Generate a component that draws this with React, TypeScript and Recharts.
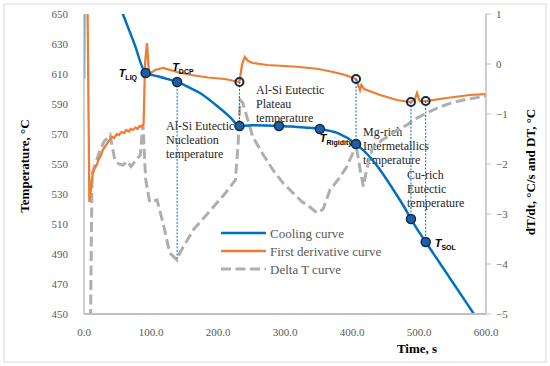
import { ComposedChart, Legend, Line, ReferenceDot, ReferenceLine, XAxis, YAxis } from "recharts";

// cooling curve, temperature in °C (left axis)
const coolTime = [0, 1, 20, 40, 58, 75, 92, 110, 125, 139, 156, 173, 195, 218, 232, 250, 270, 291, 310, 330, 352, 378, 406, 425, 442, 460, 479, 488, 510, 530, 550, 582, 600];
const coolTemp = [607, 720, 694, 671, 650, 630.4, 610.7, 608.5, 606.6, 604.7, 601.2, 597.3, 590, 581.3, 575.3, 575.8, 575.7, 575.3, 575, 574.3, 573.3, 570.7, 563.3, 555.5, 546, 534, 520.5, 513.3, 498, 484.7, 471.3, 450, 438];

// first derivative, °C/s (right axis)
const derivTime = [4, 8, 13, 16, 19, 22, 25, 28, 31, 34, 38, 42, 45, 49, 52, 56, 60, 63, 67, 70, 73, 77, 80, 83, 86, 89, 91, 94, 97, 100, 106, 118, 139, 160, 185, 210, 232, 236, 240, 245, 252, 273, 300, 322, 350, 372, 390, 406, 412, 414, 418, 430, 442, 467, 488, 494, 497, 501, 510, 541, 576, 600];
const derivRate = [3, -2.76, -2.2, -2.08, -2.02, -1.9, -1.84, -1.72, -1.66, -1.6, -1.52, -1.46, -1.48, -1.4, -1.42, -1.36, -1.38, -1.32, -1.35, -1.3, -1.32, -1.27, -1.3, -1.24, -1.26, -1.2, 0, 0.42, -0.2, -0.18, -0.12, -0.08, -0.16, -0.22, -0.27, -0.3, -0.36, 0, 0.14, 0.06, 0.02, -0.02, -0.04, -0.06, -0.1, -0.16, -0.22, -0.3, -0.52, -0.42, -0.5, -0.56, -0.62, -0.72, -0.76, -0.7, -0.58, -0.74, -0.74, -0.68, -0.62, -0.6];

// delta T, °C (right axis)
const deltaTime = [8, 9, 12, 17, 24, 30, 39, 46, 52, 58, 65, 70, 76, 84, 88, 92, 98, 104, 109, 118, 128, 139, 143, 163, 193, 210, 226, 230, 233, 237, 252, 267, 282, 297, 312, 325, 337, 348, 357, 367, 380, 392, 402, 407, 412, 417, 422, 430, 445, 457, 470, 482, 494, 506, 518, 531, 548, 566, 583, 600];
const deltaVal = [-8, -6, -2.2, -2.0, -1.72, -1.55, -1.42, -1.92, -2.0, -2.02, -1.95, -2.05, -1.95, -1.82, -1.22, -2.3, -2.76, -2.74, -2.72, -3.18, -3.78, -3.92, -3.78, -3.32, -2.86, -2.6, -2.32, -1.6, -0.72, -0.78, -1.46, -1.8, -2.12, -2.38, -2.58, -2.75, -2.86, -2.98, -2.9, -2.52, -2.3, -2.06, -1.76, -1.7, -2.1, -2.45, -2.1, -1.7, -1.52, -1.42, -1.3, -1.22, -1.1, -1.02, -0.94, -0.86, -0.78, -0.72, -0.68, -0.64];

const seriesNames = ["Cooling curve", "First derivative curve", "Delta T curve"];

const timeTicks = [0, 100, 200, 300, 400, 500, 600];
const tempTicks = [450, 470, 490, 510, 530, 550, 570, 590, 610, 630, 650];
const rateTicks = [-5, -4, -3, -2, -1, 0, 1];

// characteristic points on the cooling curve
const pointTime = [92, 139, 232, 291, 352, 406, 488, 510];
const pointTemp = [610.7, 604.7, 575.3, 575.3, 573.3, 563.3, 513.3, 498];
const pointName = ["LIQ", "DCP", "", "", "Rigidity", "", "", "SOL"];

// points picked on the derivative curve
const derivMarkTime = [232, 406, 488, 510];
const derivMarkRate = [-0.36, -0.3, -0.76, -0.74];

// DCP is read at the delta T minimum
const dcpTime = 139;
const dcpDelta = -3.92;

const BLUE = "#0070C0";
const ORANGE = "#ED7D31";
const GRAY = "#AFAFAF";
const AXIS = "#BFBFBF";
const SERIF = "'Liberation Serif', serif";

const toRows = (xs: number[], ys: number[]) => xs.map((t, i) => ({ t, v: ys[i] }));
const coolData = toRows(coolTime, coolTemp);
const derivData = toRows(derivTime, derivRate);
const deltaData = toRows(deltaTime, deltaVal);

// right axis value -> left axis units (both axes share the plot height)
const rateToTemp = (v: number) => 450 + ((v + 5) * 200) / 6;

const fmtRate = (v: number) => (v < 0 ? `\u2212${Math.abs(v)}` : `${v}`);

function Tick({ x, y, payload, anchor, dy, fmt }: any) {
  return (
    <text x={x} y={y} dy={dy} textAnchor={anchor} fontSize={11} fontFamily={SERIF} fill="#595959">
      {fmt(payload.value)}
    </text>
  );
}

const labelOffsets: Record<string, [number, number]> = {
  LIQ: [-27, 4],
  DCP: [-5, -11],
  Rigidity: [0, 13],
  SOL: [9, 5],
};

const subLabel = (name: string) => (props: any) => {
  const vb = props.viewBox;
  const cx = vb.x + vb.width / 2;
  const cy = vb.y + vb.height / 2;
  const [dx, dy] = labelOffsets[name];
  return (
    <text x={cx + dx} y={cy + dy} fontFamily="'Liberation Sans', sans-serif" fontWeight="bold" fill="#000">
      <tspan fontSize={11} fontStyle="italic">T</tspan>
      <tspan fontSize={7} dy={3}>{name}</tspan>
    </text>
  );
};

const notes = [
  { x: 166, y: 130, lines: ["Al-Si Eutectic", "Nucleation", "temperature"] },
  { x: 256, y: 94, lines: ["Al-Si Eutectic", "Plateau", "temperature"] },
  { x: 363, y: 136, lines: ["Mg-rich", "Intermetallics", "temperature"] },
  { x: 407, y: 179, lines: ["Cu-rich", "Eutectic", "temperature"] },
];

function LegendBox() {
  const colors = [BLUE, ORANGE, GRAY];
  return (
    <svg width={180} height={56}>
      {seriesNames.map((name, i) => (
        <g key={name}>
          <line x1={3} x2={48} y1={9 + i * 18} y2={9 + i * 18} stroke={colors[i]} strokeWidth={i === 2 ? 3 : 2.5} strokeDasharray={i === 2 ? "10 4.5" : undefined} />
          <text x={52} y={13.5 + i * 18} fontSize={13} fontFamily={SERIF} fill="#595959">{name}</text>
        </g>
      ))}
    </svg>
  );
}

export default function App() {
  return (
    <div style={{ position: "absolute", left: 0, top: 0, width: 550, height: 366, background: "#fff" }}>
      <ComposedChart width={550} height={366} margin={{ top: 14, right: 0, bottom: 0, left: 0 }}>
        <rect x={4} y={4} width={542} height={358} fill="none" stroke="#D9D9D9" />
        <XAxis dataKey="t" type="number" domain={[0, 600]} ticks={timeTicks} allowDataOverflow height={52} tick={<Tick anchor="middle" dy={10} fmt={(v: number) => v.toFixed(1)} />} tickLine={false} tickSize={0} tickMargin={12} axisLine={{ stroke: AXIS, strokeWidth: 2 }} />
        <YAxis yAxisId="temp" orientation="left" type="number" domain={[450, 650]} ticks={tempTicks} allowDataOverflow width={84} tick={<Tick anchor="end" dy={4} fmt={(v: number) => `${v}`} />} tickLine={false} tickSize={0} tickMargin={16} axisLine={{ stroke: AXIS, strokeWidth: 1.5 }} />
        <YAxis yAxisId="rate" orientation="right" type="number" domain={[-5, 1]} ticks={rateTicks} allowDataOverflow width={64} tick={<Tick anchor="start" dy={4} fmt={fmtRate} />} tickSize={5} tickMargin={5} tickLine={{ stroke: AXIS }} axisLine={{ stroke: AXIS, strokeWidth: 1.5 }} />

        <Line yAxisId="rate" data={deltaData} dataKey="v" name={seriesNames[2]} type="linear" stroke={GRAY} strokeWidth={3} strokeDasharray="10 4.5" dot={false} isAnimationActive={false} />
        <Line yAxisId="rate" data={derivData} dataKey="v" name={seriesNames[1]} type="linear" stroke={ORANGE} strokeWidth={2.25} dot={false} isAnimationActive={false} />
        <Line yAxisId="temp" data={coolData} dataKey="v" name={seriesNames[0]} type="monotone" stroke={BLUE} strokeWidth={2.5} dot={false} isAnimationActive={false} />

        <ReferenceLine yAxisId="temp" segment={[{ x: dcpTime, y: pointTemp[1] }, { x: dcpTime, y: rateToTemp(dcpDelta) }]} stroke={BLUE} strokeWidth={1} strokeDasharray="2 1.5" />
        {derivMarkTime.map((t, i) => (
          <ReferenceLine key={`g${t}`} yAxisId="temp" segment={[{ x: t, y: rateToTemp(derivMarkRate[i]) }, { x: t, y: pointTemp[pointTime.indexOf(t)] }]} stroke={BLUE} strokeWidth={1} strokeDasharray="2 1.5" />
        ))}

        {derivMarkTime.map((t, i) => (
          <ReferenceDot key={`o${t}`} yAxisId="rate" x={t} y={derivMarkRate[i]} r={4} fill="none" stroke="#0F2A4A" strokeWidth={2} />
        ))}
        {pointTime.map((t, i) => (
          <ReferenceDot key={`p${t}`} yAxisId="temp" x={t} y={pointTemp[i]} r={4.5} fill="#1F5FA8" stroke="#0F2A4A" strokeWidth={1.5} label={pointName[i] ? subLabel(pointName[i]) : undefined} />
        ))}

        {notes.map((n) => (
          <text key={n.lines.join()} x={n.x} y={n.y} fontSize={12} fontFamily={SERIF} fill="#262626">
            {n.lines.map((l, j) => (
              <tspan key={j} x={n.x} dy={j === 0 ? 0 : 14}>{l}</tspan>
            ))}
          </text>
        ))}

        <text transform="translate(24,166) rotate(-90)" textAnchor="middle" dominantBaseline="central" fontSize={13} fontWeight="bold" fontFamily={SERIF} fill="#000">Temperature, °C</text>
        <text transform="translate(530,172) rotate(-90)" textAnchor="middle" dominantBaseline="central" fontSize={13} fontWeight="bold" fontFamily={SERIF} fill="#000">dT/dt, °C/s and DT, °C</text>
        <text x={417} y={348} textAnchor="middle" dominantBaseline="central" fontSize={13} fontWeight="bold" fontFamily={SERIF} fill="#000">Time, s</text>

        <Legend layout="vertical" align="center" verticalAlign="middle" content={() => <LegendBox />} wrapperStyle={{ position: "absolute", left: 218, top: 224, width: 180, height: 56 }} />
      </ComposedChart>
    </div>
  );
}
